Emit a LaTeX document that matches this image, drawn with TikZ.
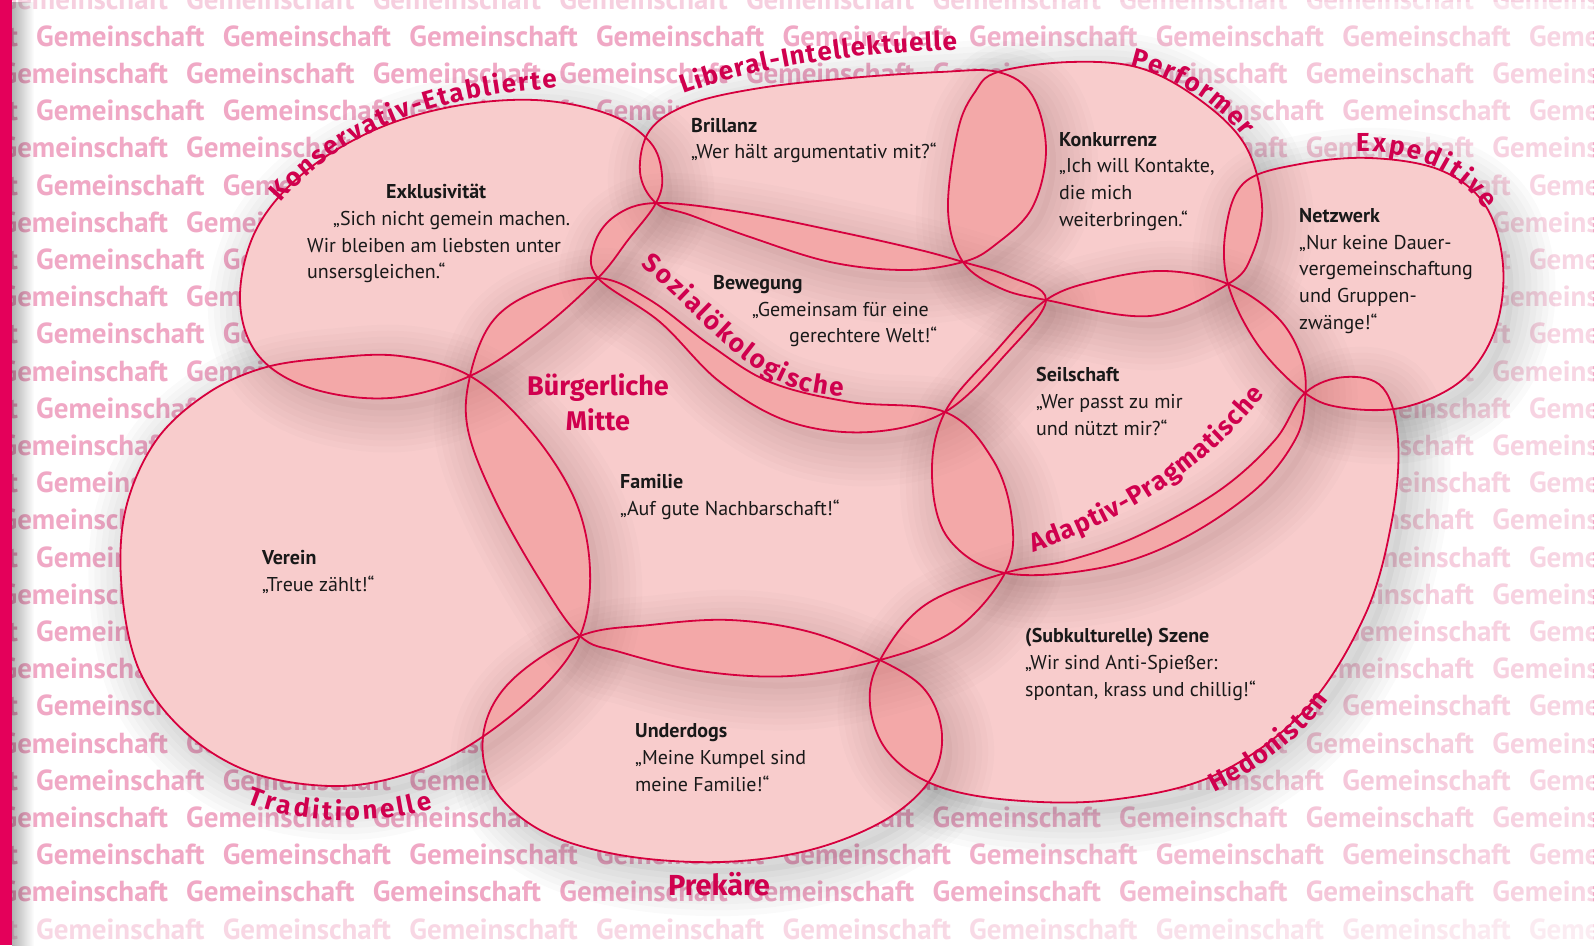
\documentclass[tikz,border=0pt]{standalone}
\usepackage{fontspec}
\setmainfont{PT Sans}
\newfontfamily\labfamily{Fira Sans}
\usetikzlibrary{decorations.text,fadings}
\definecolor{barcol}{RGB}{228,0,90}
\definecolor{edge}{RGB}{214,0,62}
\definecolor{lab}{RGB}{208,0,78}
\definecolor{blobfill}{RGB}{232,88,88}
\definecolor{bgtext}{RGB}{240,168,197}
\definecolor{ink}{RGB}{25,25,25}
\newcommand\labfnt{\labfamily\bfseries\fontsize{26}{30}\selectfont}
\newcommand\bgfnt{\bfseries\fontsize{29}{30}\selectfont}
\newcommand\blobKE{plot[smooth cycle,tension=0.6] coordinates {(240,300) (255,232) (300,176) (370,132) (450,107) (535,100) (608,114) (650,142) (662,175) (656,203) (628,240) (598,278) (540,330) (470,376) (390,398) (310,388) (258,355)}}
\newcommand\blobLI{plot[smooth cycle,tension=0.6] coordinates {(640,172) (650,130) (690,104) (760,88) (850,78) (940,72) (998,72) (1032,95) (1046,150) (1032,208) (995,245) (963,262) (905,270) (830,262) (750,237) (690,215) (656,203)}}
\newcommand\blobPF{plot[smooth cycle,tension=0.6] coordinates {(998,72) (1070,62) (1140,68) (1200,100) (1245,145) (1262,205) (1252,255) (1228,284) (1150,316) (1046,300) (1000,288) (963,262) (948,210) (958,130) (975,92)}}
\newcommand\blobNW{plot[smooth cycle,tension=0.6] coordinates {(1245,182) (1300,164) (1370,158) (1440,170) (1485,205) (1503,265) (1495,330) (1462,380) (1405,407) (1345,408) (1305,393) (1258,345) (1228,284) (1226,228)}}
\newcommand\blobSO{plot[smooth cycle,tension=0.6] coordinates {(656,203) (740,212) (840,232) (920,250) (963,262) (1008,276) (1046,300) (1005,355) (945,412) (870,432) (790,422) (720,382) (660,322) (598,278) (594,245) (615,216)}}
\newcommand\blobAP{plot[smooth cycle,tension=0.6] coordinates {(1046,300) (1100,280) (1165,271) (1228,284) (1278,318) (1302,360) (1305,400) (1295,440) (1255,490) (1180,540) (1100,568) (1005,573) (948,538) (932,475) (945,412) (995,352)}}
\newcommand\blobBM{plot[smooth cycle,tension=0.6] coordinates {(470,376) (492,322) (535,292) (598,278) (650,300) (710,345) (770,382) (850,402) (945,412) (993,460) (1012,520) (1005,573) (955,630) (880,660) (790,676) (700,671) (620,652) (580,636) (540,580) (495,500) (468,430)}}
\newcommand\blobVE{plot[smooth cycle,tension=0.6] coordinates {(263,368) (330,358) (400,356) (470,376) (530,430) (575,500) (590,570) (580,636) (540,690) (470,745) (400,776) (330,786) (250,772) (185,732) (140,672) (122,592) (125,512) (155,442) (205,395)}}
\newcommand\blobPR{plot[smooth cycle,tension=0.6] coordinates {(580,636) (650,625) (730,620) (810,632) (880,660) (925,690) (942,735) (930,780) (885,820) (810,850) (720,862) (620,855) (540,830) (492,785) (484,730) (512,680)}}
\newcommand\blobHE{plot[smooth cycle,tension=0.6] coordinates {(1005,573) (1070,560) (1140,535) (1220,490) (1275,440) (1305,393) (1345,377) (1383,388) (1398,440) (1392,520) (1365,615) (1305,710) (1215,775) (1110,800) (1010,800) (935,785) (888,752) (870,705) (880,660) (925,605)}}
\newcommand\eachblob[1]{%
  \path[#1] \blobKE; \path[#1] \blobLI; \path[#1] \blobPF; \path[#1] \blobNW;
  \path[#1] \blobSO; \path[#1] \blobAP; \path[#1] \blobBM; \path[#1] \blobVE;
  \path[#1] \blobPR; \path[#1] \blobHE;}
\newcommand\shadowof[1]{%
  \begin{scope}
    \clip (-200,-200) rectangle (1800,1200) #1;
    \begin{scope}[shift={(10,12)}]
      \foreach \w in {84,72,60,48,36,24,12}{\path[draw=black, line width=\w pt, draw opacity=0.021] #1;}
      \path[fill=black, fill opacity=0.035] #1;
    \end{scope}
  \end{scope}}
\begin{document}
\begin{tikzpicture}[x=1pt,y=-1pt,
  bgword/.style={font=\bgfnt, text=bgtext, anchor=base west, inner sep=0pt},
  ttl/.style={font=\bfseries\fontsize{20}{24}\selectfont, text=ink, anchor=base west, inner sep=0pt},
  qt/.style={font=\fontsize{20}{24}\selectfont, text=ink, anchor=base west, inner sep=0pt},
  lbl/.style={decorate, decoration={text along path, text align=fit to path, text color=lab}}]
\useasboundingbox (0,0) rectangle (1594,945);
\fill[white] (0,0) rectangle (1594,945);
% background words (words completely hidden by the bubbles are left out)
\foreach \k in {0,...,25}{
  \pgfmathsetmacro\yy{37.2*\k+9}
  \pgfmathsetmacro\xo{ifthenelse(mod(\k,2)==1,-150.6,-0.6)}
  \pgfmathtruncatemacro\lo{{99,99,99,5,2,3,2,3,2,3,2,2,1,2,1,2,1,2,1,2,3,4,99,99,99,99}[\k]}
  \pgfmathtruncatemacro\hi{{-1,-1,-1,6,5,6,6,7,7,7,6,7,6,7,6,7,6,7,6,6,5,4,-1,-1,-1,-1}[\k]}
  \foreach \m in {0,...,9}{
    \pgfmathtruncatemacro\vis{(\m<\lo)||(\m>\hi)}
    \ifnum\vis=1
      \node[bgword] (w\k-\m) at ({\xo+186.6*\m},\yy) {Gemeinschaft};
    \fi
  }
}
\fill[white, opacity=0.45] (0,0) rectangle (1594,14);
\fill[white, opacity=0.55] (0,912) rectangle (1594,945);
\fill[white, opacity=0.55, path fading=west] (850,0) rectangle (1594,945);
% bubbles: white base, shadows cast on everything but the bubble itself, tint, outline
\eachblob{fill=white}
\shadowof{\blobKE}\shadowof{\blobLI}\shadowof{\blobPF}\shadowof{\blobNW}\shadowof{\blobSO}
\shadowof{\blobAP}\shadowof{\blobBM}\shadowof{\blobVE}\shadowof{\blobPR}\shadowof{\blobHE}
\eachblob{fill=blobfill, fill opacity=0.3}
\eachblob{draw=edge, line width=1.8pt}
% curved labels
\path[lbl, decoration={text={|\labfnt|Konservativ-Etablierte}}] (281,203) .. controls (345,128) and (440,95) .. (557,88);
\path[lbl, decoration={text={|\labfnt|Liberal-Intellektuelle}}] (684,94) .. controls (760,66) and (860,52) .. (957,50);
\path[lbl, decoration={text={|\labfnt|Performer}}] (1130,66) .. controls (1170,75) and (1215,100) .. (1243,137);
\path[lbl, decoration={text={|\labfnt|Expeditive}}] (1356,152) .. controls (1410,150) and (1455,168) .. (1485,210);
\path[lbl, decoration={text={|\labfnt|Sozialökologische}}] (640,266) .. controls (710,320) and (750,395) .. (843,396);
\path[lbl, decoration={text={|\labfnt|Adaptiv-Pragmatische}}] (1033,552) .. controls (1120,522) and (1200,475) .. (1265,395);
\path[lbl, decoration={text={|\labfnt|Hedonisten}}] (1214,792) .. controls (1258,770) and (1300,740) .. (1329,700);
\path[lbl, decoration={text={|\labfnt|Traditionelle}}] (247,803) .. controls (300,825) and (380,825) .. (433,808);
\node[font=\labfamily\bfseries\fontsize{27}{35}\selectfont, text=lab, align=center] (bm) at (598,402) {Bürgerliche\\Mitte};
\node[font=\labfamily\bfseries\fontsize{29}{30}\selectfont, text=lab] (pk) at (719,884) {Prekäre};
% texts
\node[ttl] (t1) at (386,198) {Exklusivität};
\node[qt] (t1a) at (333,225) {„Sich nicht gemein machen.};
\node[qt] (t1b) at (307,252) {Wir bleiben am liebsten unter};
\node[qt] (t1c) at (307,278) {unsersgleichen.“};
\node[ttl] (t2) at (691,132) {Brillanz};
\node[qt] (t2a) at (691,158) {„Wer hält argumentativ mit?“};
\node[ttl] (t3) at (1059,146) {Konkurrenz};
\node[qt] (t3a) at (1059,172) {„Ich will Kontakte,};
\node[qt] (t3b) at (1059,199) {die mich};
\node[qt] (t3c) at (1059,226) {weiterbringen.“};
\node[ttl] (t4) at (1299,222) {Netzwerk};
\node[qt] (t4a) at (1299,249) {„Nur keine Dauer-};
\node[qt] (t4b) at (1299,275) {vergemeinschaftung};
\node[qt] (t4c) at (1299,302) {und Gruppen-};
\node[qt] (t4d) at (1299,329) {zwänge!“};
\node[ttl] (t5) at (713,289) {Bewegung};
\node[qt] (t5a) at (752,316) {„Gemeinsam für eine};
\node[qt] (t5b) at (789,342) {gerechtere Welt!“};
\node[ttl] (t6) at (1036,381) {Seilschaft};
\node[qt] (t6a) at (1036,408) {„Wer passt zu mir};
\node[qt] (t6b) at (1036,435) {und nützt mir?“};
\node[ttl] (t7) at (620,488) {Familie};
\node[qt] (t7a) at (620,515) {„Auf gute Nachbarschaft!“};
\node[ttl] (t8) at (262,564) {Verein};
\node[qt] (t8a) at (262,591) {„Treue zählt!“};
\node[ttl] (t9) at (1025,642) {(Subkulturelle) Szene};
\node[qt] (t9a) at (1025,669) {„Wir sind Anti-Spießer:};
\node[qt] (t9b) at (1025,696) {spontan, krass und chillig!“};
\node[ttl] (t10) at (635,737) {Underdogs};
\node[qt] (t10a) at (635,764) {„Meine Kumpel sind};
\node[qt] (t10b) at (635,791) {meine Familie!“};
% left bar
\fill[black, opacity=0.3, path fading=east] (12,0) rectangle (34,945);
\fill[barcol] (0,0) rectangle (12,945);
\end{tikzpicture}
\end{document}
